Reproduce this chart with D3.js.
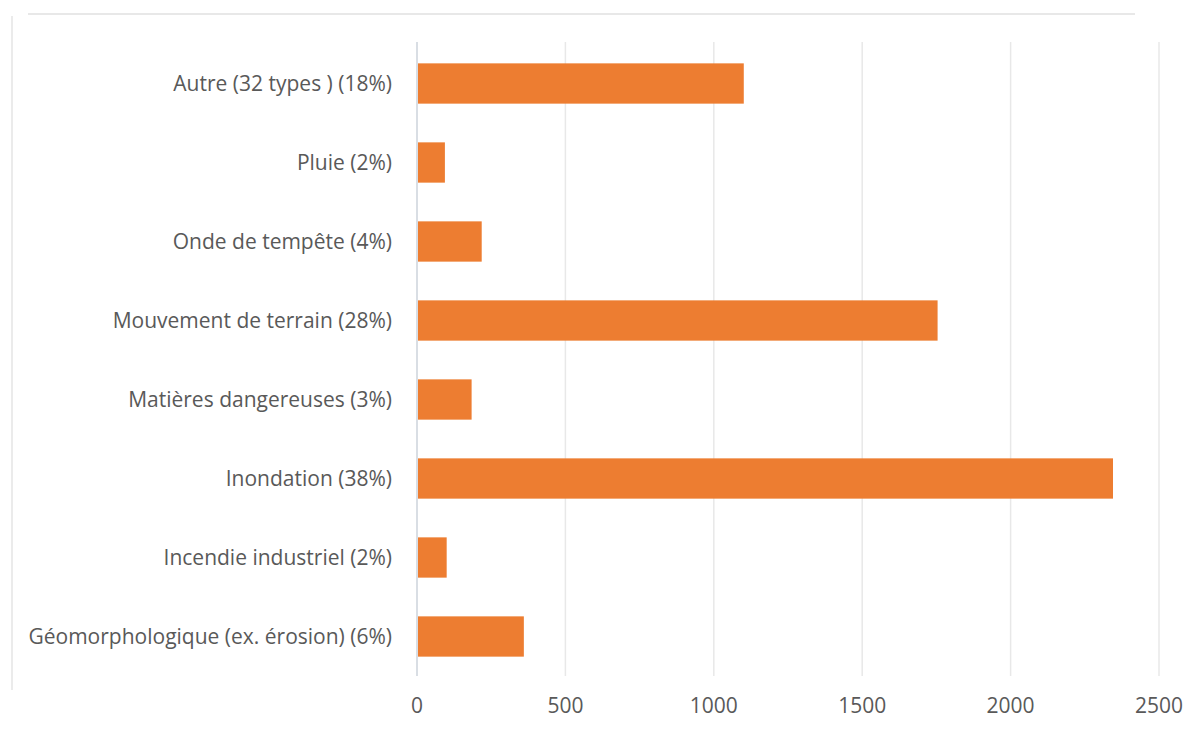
<!DOCTYPE html>
<html>
<head>
<meta charset="utf-8">
<script src="https://cdn.jsdelivr.net/npm/d3@7"></script>
<style>
  body { margin: 0; background: #fff; }
  svg { display: block; font-family: "Open Sans", Lato, sans-serif; }
</style>
</head>
<body>
<div id="chart"></div>
<script>
// ========================
// Data
// ========================
const categories = [
  "Autre (32 types ) (18%)",
  "Pluie (2%)",
  "Onde de tempête (4%)",
  "Mouvement de terrain (28%)",
  "Matières dangereuses (3%)",
  "Inondation (38%)",
  "Incendie industriel (2%)",
  "Géomorphologique (ex. érosion) (6%)"
];
const values = [1101, 94, 218, 1754, 184, 2345, 100, 360];
const xTicks = [0, 500, 1000, 1500, 2000, 2500];

// ========================
// Setup
// ========================
const width = 1202, height = 731;
const margin = { top: 44, right: 43, bottom: 55, left: 417 };

const svg = d3.select("#chart").append("svg")
  .attr("width", width)
  .attr("height", height);

const x = d3.scaleLinear()
  .domain([0, 2500])
  .range([margin.left, width - margin.right]);

const y = d3.scaleBand()
  .domain(categories)
  .range([margin.top, height - margin.bottom])
  .paddingInner(0.49)
  .paddingOuter(0.245);

// chart frame (partly visible top + left edges)
svg.append("line")
  .attr("x1", 28).attr("x2", 1135)
  .attr("y1", 14).attr("y2", 14)
  .attr("stroke", "#e0e0e0").attr("stroke-width", 1.5);
svg.append("line")
  .attr("x1", 12).attr("x2", 12)
  .attr("y1", 16).attr("y2", 690)
  .attr("stroke", "#e4e4e4").attr("stroke-width", 1.5);

// gridlines
svg.append("g")
  .selectAll("line")
  .data(xTicks.slice(1))
  .join("line")
  .attr("x1", d => x(d)).attr("x2", d => x(d))
  .attr("y1", margin.top - 2).attr("y2", height - margin.bottom)
  .attr("stroke", "#e8e8e8")
  .attr("stroke-width", 1.5);

// bars
svg.append("g")
  .selectAll("rect")
  .data(values)
  .join("rect")
  .attr("x", x(0) + 1)
  .attr("y", (d, i) => y(categories[i]))
  .attr("width", d => x(d) - x(0) - 1)
  .attr("height", y.bandwidth())
  .attr("fill", "#ED7D31");

// zero axis line
svg.append("line")
  .attr("x1", x(0)).attr("x2", x(0))
  .attr("y1", margin.top - 2).attr("y2", height - margin.bottom)
  .attr("stroke", "#cdd3db")
  .attr("stroke-width", 1.5);

// category labels
svg.append("g")
  .selectAll("text")
  .data(categories)
  .join("text")
  .attr("x", x(0) - 25)
  .attr("y", d => y(d) + y.bandwidth() / 2)
  .attr("dy", "0.35em")
  .attr("text-anchor", "end")
  .attr("fill", "#595959")
  .style("font-size", "21px")
  .text(d => d);

// x tick labels
svg.append("g")
  .selectAll("text")
  .data(xTicks)
  .join("text")
  .attr("x", d => x(d))
  .attr("y", 706)
  .attr("dy", "0.35em")
  .attr("text-anchor", "middle")
  .attr("fill", "#595959")
  .style("font-size", "21px")
  .text(d => d);
</script>
</body>
</html>
